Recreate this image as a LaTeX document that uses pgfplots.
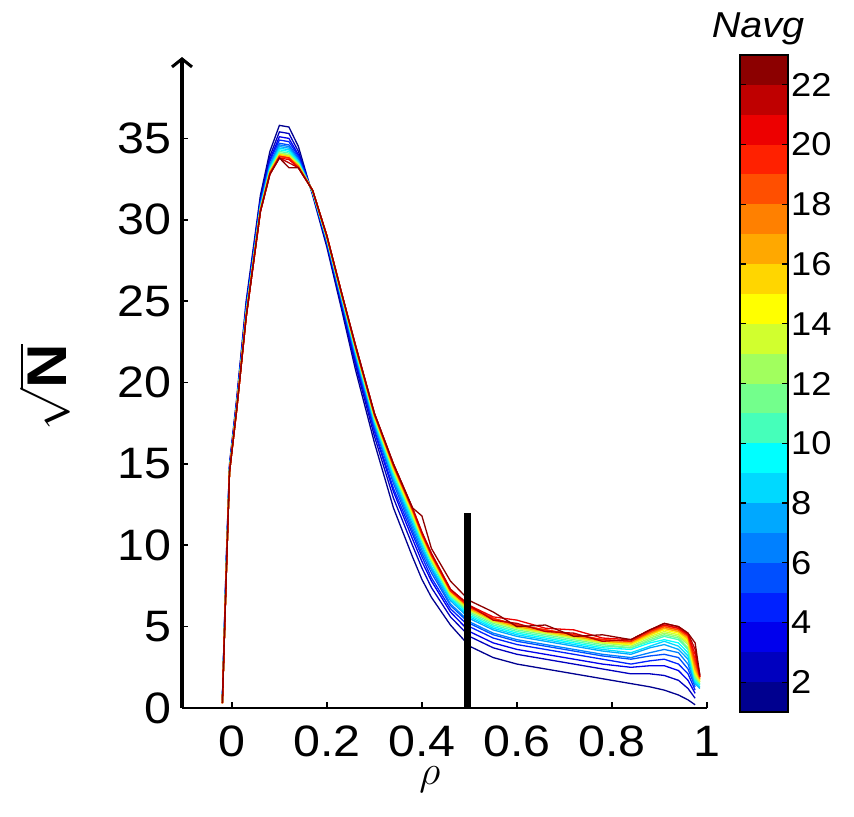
\documentclass[border=0pt]{standalone}
\usepackage{fontspec}
\setmainfont{Liberation Sans}[FakeStretch=1.1]
\usepackage{pgfplots}
\usepackage{pgfplotstable}
\pgfplotsset{compat=1.18}
\usetikzlibrary{calc,arrows.meta}

% jet-like colours, one per Navg band (1 = dark blue ... 22 = dark red)
\definecolor{navg1}{rgb}{0,0,0.56}
\definecolor{navg2}{rgb}{0,0,0.75}
\definecolor{navg3}{rgb}{0,0,0.93}
\definecolor{navg4}{rgb}{0,0.13,1}
\definecolor{navg5}{rgb}{0,0.31,1}
\definecolor{navg6}{rgb}{0,0.5,1}
\definecolor{navg7}{rgb}{0,0.66,1}
\definecolor{navg8}{rgb}{0,0.85,1}
\definecolor{navg9}{rgb}{0,1,1}
\definecolor{navg10}{rgb}{0.27,1,0.73}
\definecolor{navg11}{rgb}{0.45,1,0.55}
\definecolor{navg12}{rgb}{0.63,1,0.37}
\definecolor{navg13}{rgb}{0.82,1,0.18}
\definecolor{navg14}{rgb}{1,1,0}
\definecolor{navg15}{rgb}{1,0.84,0}
\definecolor{navg16}{rgb}{1,0.66,0}
\definecolor{navg17}{rgb}{1,0.5,0}
\definecolor{navg18}{rgb}{1,0.31,0}
\definecolor{navg19}{rgb}{1,0.13,0}
\definecolor{navg20}{rgb}{0.93,0,0}
\definecolor{navg21}{rgb}{0.75,0,0}
\definecolor{navg22}{rgb}{0.55,0,0}

% sqrt(N) vs rho, one column per Navg
\pgfplotstableread{
x c1 c2 c3 c4 c5 c6 c7 c8 c9 c10 c11 c12 c13 c14 c15 c16 c17 c18 c19 c20 c21 c22
-0.020 0.6 0.5 0.5 0.5 0.4 0.4 0.4 0.4 0.4 0.4 0.4 0.3 0.3 0.3 0.3 0.3 0.3 0.3 0.3 0.3 0.3 0.3
-0.012 9.0 8.8 8.6 8.5 8.5 8.4 8.3 8.3 8.2 8.2 8.2 8.1 8.1 8.1 8.1 8.1 8.1 8.0 8.0 8.0 8.0 8.0
-0.005 15.0 14.9 14.8 14.8 14.7 14.7 14.7 14.6 14.6 14.6 14.6 14.6 14.6 14.6 14.5 14.5 14.5 14.5 14.5 14.5 14.5 14.5
0.010 19.0 18.8 18.7 18.7 18.6 18.6 18.5 18.5 18.5 18.4 18.4 18.4 18.4 18.4 18.4 18.3 18.3 18.3 18.3 18.3 18.3 18.3
0.030 25.0 24.8 24.6 24.5 24.5 24.4 24.3 24.3 24.2 24.2 24.2 24.1 24.1 24.1 24.1 24.1 24.1 24.0 24.0 24.0 24.0 24.0
0.060 31.5 31.3 31.1 31.0 31.0 30.9 30.8 30.8 30.7 30.7 30.7 30.6 30.6 30.6 30.6 30.6 30.6 30.5 30.5 30.5 30.5 30.5
0.080 34.2 33.9 33.7 33.6 33.4 33.4 33.3 33.2 33.1 33.1 33.0 33.0 33.0 32.9 32.9 32.9 32.9 32.9 32.8 32.8 32.8 32.8
0.100 35.8 35.4 35.1 34.9 34.7 34.6 34.5 34.4 34.3 34.2 34.1 34.1 34.0 34.0 34.0 33.9 33.9 33.9 33.9 33.8 33.8 33.8
0.120 35.7 35.3 35.0 34.8 34.6 34.5 34.4 34.3 34.2 34.1 34.0 34.0 33.9 33.9 33.9 33.8 33.8 33.8 33.8 33.7 33.5 33.2
0.140 34.5 34.2 34.0 33.9 33.8 33.7 33.6 33.6 33.5 33.5 33.4 33.4 33.4 33.3 33.3 33.3 33.3 33.2 33.2 33.2 33.2 33.2
0.170 31.5 31.6 31.6 31.6 31.7 31.7 31.7 31.7 31.7 31.7 31.7 31.8 31.8 31.8 31.8 31.8 31.8 31.8 31.8 31.8 31.8 31.8
0.200 28.3 28.5 28.6 28.6 28.7 28.7 28.8 28.8 28.8 28.9 28.9 28.9 28.9 28.9 28.9 29.0 29.0 29.0 29.0 29.0 29.0 29.0
0.230 24.6 24.8 25.0 25.1 25.1 25.2 25.3 25.3 25.4 25.4 25.4 25.5 25.5 25.5 25.5 25.5 25.6 25.6 25.6 25.6 25.6 25.6
0.260 20.8 21.1 21.3 21.5 21.6 21.7 21.8 21.9 21.9 22.0 22.1 22.1 22.1 22.2 22.2 22.2 22.2 22.2 22.3 22.3 22.3 22.3
0.300 16.3 16.7 17.0 17.1 17.3 17.4 17.5 17.6 17.7 17.7 17.8 17.9 17.9 17.9 18.0 18.0 18.0 18.0 18.1 18.1 18.1 18.1
0.340 12.3 12.9 13.3 13.5 13.8 14.0 14.1 14.2 14.4 14.5 14.5 14.6 14.7 14.7 14.8 14.8 14.9 14.9 14.9 15.0 15.0 15.0
0.380 9.3 10.0 10.4 10.7 10.9 11.1 11.3 11.5 11.6 11.7 11.8 11.9 11.9 12.0 12.1 12.1 12.2 12.2 12.2 12.3 12.3 12.3
0.400 7.9 8.6 9.0 9.3 9.5 9.7 9.9 10.0 10.2 10.3 10.3 10.4 10.5 10.5 10.6 10.6 10.7 10.7 10.7 10.8 10.8 11.8
0.420 6.8 7.4 7.8 8.0 8.3 8.5 8.6 8.7 8.9 9.0 9.0 9.1 9.2 9.2 9.3 9.3 9.4 9.4 9.4 9.5 9.5 9.8
0.460 5.1 5.6 5.9 6.1 6.3 6.4 6.6 6.7 6.8 6.9 6.9 7.0 7.0 7.1 7.1 7.2 7.2 7.2 7.2 7.3 7.3 7.8
0.500 3.8 4.4 4.7 5.0 5.2 5.3 5.5 5.6 5.7 5.8 5.9 6.0 6.0 6.1 6.1 6.1 6.2 6.2 6.2 6.3 6.3 6.6
0.550 3.1 3.7 4.0 4.3 4.5 4.6 4.8 4.9 5.0 5.1 5.2 5.3 5.3 5.4 5.4 5.4 5.5 5.5 5.5 5.6 5.4 5.9
0.600 2.7 3.3 3.6 3.9 4.1 4.2 4.4 4.5 4.6 4.7 4.8 4.9 4.9 5.0 5.0 5.0 5.1 5.1 5.1 5.4 5.2 5.0
0.660 2.4 3.0 3.3 3.6 3.8 3.9 4.1 4.2 4.3 4.4 4.5 4.6 4.6 4.7 4.7 4.7 4.8 4.8 4.8 4.9 4.7 5.1
0.720 2.1 2.7 3.0 3.3 3.5 3.6 3.8 3.9 4.0 4.1 4.2 4.3 4.3 4.4 4.4 4.4 4.5 4.5 4.5 4.8 4.6 4.4
0.780 1.8 2.4 2.7 3.0 3.2 3.3 3.5 3.6 3.7 3.8 3.9 4.0 4.0 4.1 4.1 4.1 4.2 4.2 4.2 4.3 4.1 4.5
0.840 1.5 2.1 2.5 2.7 3.0 3.1 3.3 3.4 3.6 3.7 3.7 3.8 3.9 3.9 4.0 4.0 4.1 4.1 4.1 4.2 4.2 4.2
0.880 1.3 2.1 2.6 2.9 3.2 3.4 3.7 3.8 4.0 4.1 4.2 4.3 4.4 4.5 4.5 4.6 4.6 4.7 4.7 4.8 4.8 4.8
0.910 1.1 2.0 2.6 3.0 3.3 3.6 3.9 4.1 4.2 4.4 4.5 4.6 4.7 4.8 4.9 4.9 5.0 5.0 5.1 5.1 5.2 5.2
0.940 0.8 1.7 2.3 2.7 3.1 3.4 3.6 3.8 4.0 4.2 4.3 4.4 4.5 4.6 4.7 4.7 4.8 4.8 4.9 4.9 5.0 5.0
0.960 0.5 1.2 1.7 2.1 2.4 2.7 3.0 3.2 3.4 3.6 3.7 3.9 4.0 4.1 4.2 4.3 4.4 4.4 4.5 4.5 4.6 4.6
0.975 0.2 0.6 0.9 1.1 1.3 1.4 1.5 1.6 1.7 1.8 1.9 2.0 2.1 2.2 2.3 2.4 2.6 2.8 3.0 3.3 3.6 4.0
0.985 nan nan nan nan nan nan 1.2 1.3 1.4 1.5 1.5 1.6 1.6 1.7 1.7 1.8 1.8 1.9 1.9 1.9 2.0 2.0
}\curves

\begin{document}
\begin{tikzpicture}
\begin{axis}[
  name=main,
  scale only axis, width=262.5pt, height=325.5pt,
  xmin=-0.105, xmax=1, ymin=0, ymax=40,
  axis x line=bottom, axis y line=left,
  x axis line style={-, line width=0.9pt},
  y axis line style={-{Straight Barb[length=4pt,width=10pt]}, line width=1.5pt},
  xtick={0,0.2,0.4,0.6,0.8,1}, ytick={0,5,...,35},
  tick align=inside, major tick length=3pt,
  tick style={black, line width=0.8pt},
  /pgf/number format/assume math mode=true,
  tick label style={font=\fontsize{22}{25}\selectfont},
  xticklabel style={yshift=-5.5pt},
  yticklabel style={xshift=-2pt},
  ylabel={$\sqrt{\mbox{\bfseries N}}$},
  ylabel style={font=\fontsize{28}{29}\selectfont, inner sep=0pt, at={(axis description cs:-0.262,0.493)}, anchor=center},
  xlabel={$\rho$},
  xlabel style={font=\fontsize{20}{24}\selectfont, inner sep=0pt, at={(axis description cs:0.472,-0.11)}, anchor=center},
]
\addplot[navg1, line width=0.65pt] table[x=x, y=c1] {\curves};
\addplot[navg2, line width=0.65pt] table[x=x, y=c2] {\curves};
\addplot[navg3, line width=0.65pt] table[x=x, y=c3] {\curves};
\addplot[navg4, line width=0.65pt] table[x=x, y=c4] {\curves};
\addplot[navg5, line width=0.65pt] table[x=x, y=c5] {\curves};
\addplot[navg6, line width=0.65pt] table[x=x, y=c6] {\curves};
\addplot[navg7, line width=0.65pt] table[x=x, y=c7] {\curves};
\addplot[navg8, line width=0.65pt] table[x=x, y=c8] {\curves};
\addplot[navg9, line width=0.65pt] table[x=x, y=c9] {\curves};
\addplot[navg10, line width=0.65pt] table[x=x, y=c10] {\curves};
\addplot[navg11, line width=0.65pt] table[x=x, y=c11] {\curves};
\addplot[navg12, line width=0.65pt] table[x=x, y=c12] {\curves};
\addplot[navg13, line width=0.65pt] table[x=x, y=c13] {\curves};
\addplot[navg14, line width=0.65pt] table[x=x, y=c14] {\curves};
\addplot[navg15, line width=0.65pt] table[x=x, y=c15] {\curves};
\addplot[navg16, line width=0.65pt] table[x=x, y=c16] {\curves};
\addplot[navg17, line width=0.65pt] table[x=x, y=c17] {\curves};
\addplot[navg18, line width=0.65pt] table[x=x, y=c18] {\curves};
\addplot[navg19, line width=0.65pt] table[x=x, y=c19] {\curves};
\addplot[navg20, line width=0.65pt] table[x=x, y=c20] {\curves};
\addplot[navg21, line width=0.65pt] table[x=x, y=c21] {\curves};
\addplot[navg22, line width=0.65pt] table[x=x, y=c22] {\curves};
% threshold marker
\addplot[black, line width=3.5pt] coordinates {(0.495,0) (0.495,12)};
\end{axis}

% discrete colour bar: one band per Navg value
\begin{axis}[
  at={($(main.south east)+(16.5pt,-2pt)$)}, anchor=south west,
  scale only axis, width=24pt, height=328.5pt,
  xmin=-0.5, xmax=0.5, ymin=1, ymax=23,
  ybar stacked, bar width=24pt,
  xtick=\empty, ytick={2,4,...,22},
  ytick pos=both, yticklabel pos=right,
  tick align=inside, major tick length=3pt,
  tick style={black, line width=0.6pt},
  axis line style={black, line width=0.6pt},
  axis on top,
  /pgf/number format/assume math mode=true,
  yticklabel style={font=\fontsize{16.5}{19}\selectfont, xshift=-2pt},
  title={\textit{Navg}},
  title style={font=\fontsize{18}{21}\selectfont, at={(0.5,1)}, anchor=base, yshift=3pt, xshift=-3pt},
]
\addplot[draw=none, fill=none] coordinates {(0,1)};
\addplot[fill=navg1, draw=none] coordinates {(0,1)};
\addplot[fill=navg2, draw=none] coordinates {(0,1)};
\addplot[fill=navg3, draw=none] coordinates {(0,1)};
\addplot[fill=navg4, draw=none] coordinates {(0,1)};
\addplot[fill=navg5, draw=none] coordinates {(0,1)};
\addplot[fill=navg6, draw=none] coordinates {(0,1)};
\addplot[fill=navg7, draw=none] coordinates {(0,1)};
\addplot[fill=navg8, draw=none] coordinates {(0,1)};
\addplot[fill=navg9, draw=none] coordinates {(0,1)};
\addplot[fill=navg10, draw=none] coordinates {(0,1)};
\addplot[fill=navg11, draw=none] coordinates {(0,1)};
\addplot[fill=navg12, draw=none] coordinates {(0,1)};
\addplot[fill=navg13, draw=none] coordinates {(0,1)};
\addplot[fill=navg14, draw=none] coordinates {(0,1)};
\addplot[fill=navg15, draw=none] coordinates {(0,1)};
\addplot[fill=navg16, draw=none] coordinates {(0,1)};
\addplot[fill=navg17, draw=none] coordinates {(0,1)};
\addplot[fill=navg18, draw=none] coordinates {(0,1)};
\addplot[fill=navg19, draw=none] coordinates {(0,1)};
\addplot[fill=navg20, draw=none] coordinates {(0,1)};
\addplot[fill=navg21, draw=none] coordinates {(0,1)};
\addplot[fill=navg22, draw=none] coordinates {(0,1)};
\end{axis}
\pgfresetboundingbox
\useasboundingbox ([xshift=-91pt,yshift=-54pt]main.south west) rectangle ([xshift=336pt,yshift=354pt]main.south west);
\end{tikzpicture}
\end{document}
